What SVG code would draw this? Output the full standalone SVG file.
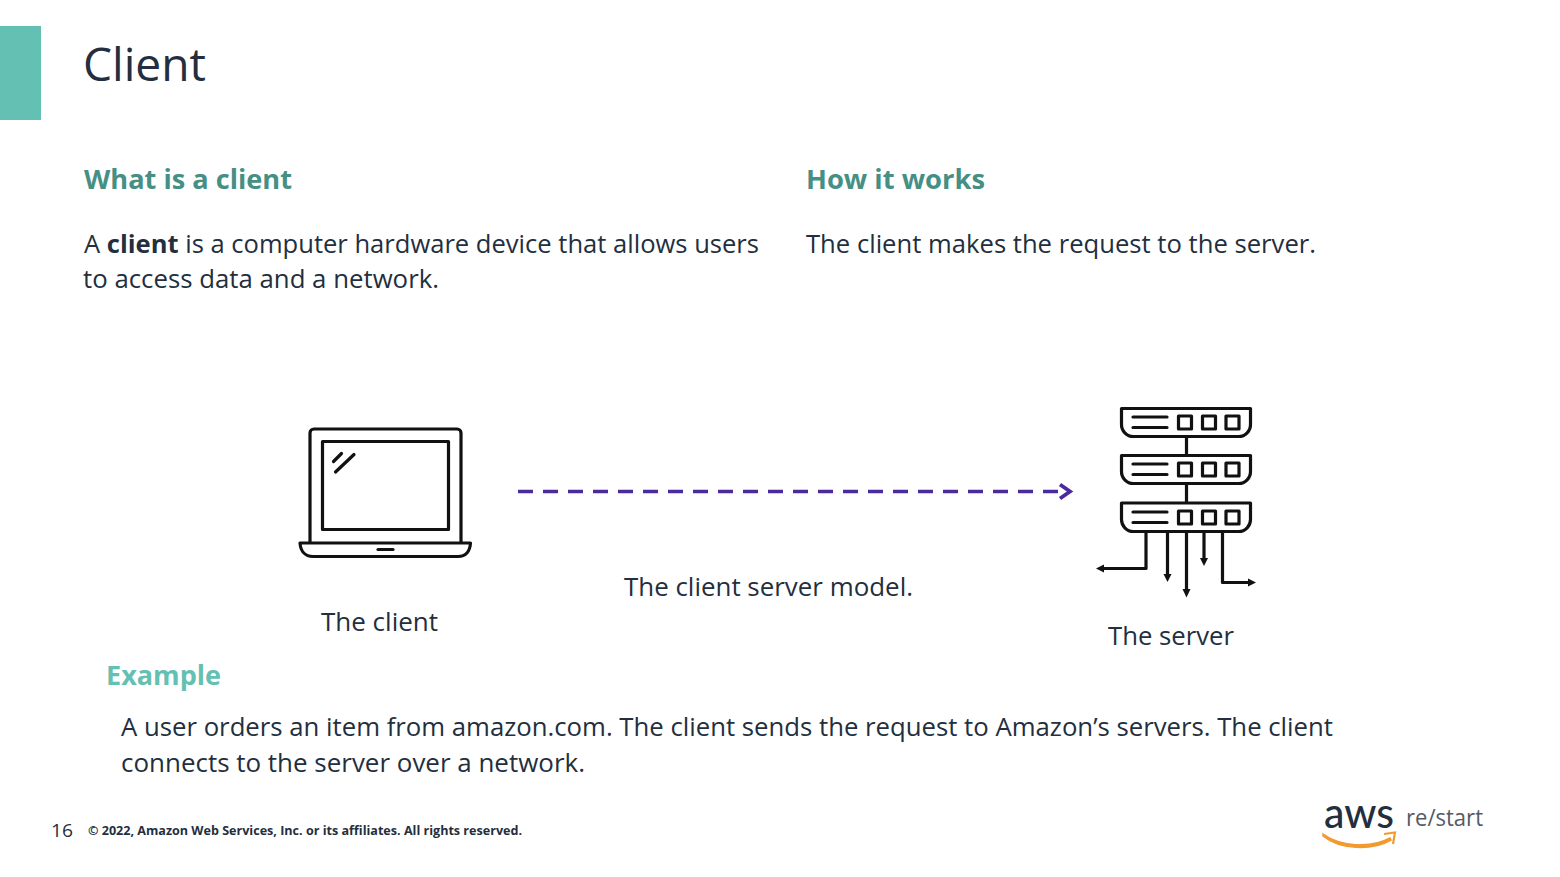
<svg xmlns="http://www.w3.org/2000/svg" width="1560" height="877" viewBox="0 0 1560 877">
<style>
text{font-family:"Open Sans","Noto Sans","Liberation Sans",sans-serif;fill:#232f3e}
.body{font-size:25px}
.head{font-size:26.500px;font-weight:700;fill:#458f85}
.ic{fill:none;stroke:#111;stroke-width:3.200;stroke-linejoin:round;stroke-linecap:round}
.ah{fill:#111;stroke:none}
</style>
<rect width="1560" height="877" fill="#fff"/>
<rect id="accent" x="0" y="26" width="41" height="94" fill="#63c0b2"/>
<text id="title" x="83" y="81" font-size="45" textLength="123" lengthAdjust="spacingAndGlyphs">Client</text>
<text x="84" y="189" class="head" textLength="208" lengthAdjust="spacingAndGlyphs">What is a client</text>
<text x="806" y="189" class="head" textLength="179" lengthAdjust="spacingAndGlyphs">How it works</text>
<text x="84" y="253" class="body" textLength="675" lengthAdjust="spacingAndGlyphs">A <tspan font-weight="700">client</tspan> is a computer hardware device that allows users</text>
<text x="83" y="288" class="body" textLength="356" lengthAdjust="spacingAndGlyphs">to access data and a network.</text>
<text x="806" y="253" class="body" textLength="510" lengthAdjust="spacingAndGlyphs">The client makes the request to the server.</text>
<g id="client">
<path class="ic" d="M310 542V433a4 4 0 0 1 4-4H457a4 4 0 0 1 4 4V542"/>
<rect class="ic" x="322.500" y="441.500" width="126" height="88"/>
<path class="ic" d="M333.500 461.500L341.500 453.500M335.500 472L354 454.500"/>
<path class="ic" d="M300 543H470.500C470 551 466 556.500 458 556.500H313C305 556.500 300.500 551 300 543Z"/>
<path class="ic" d="M378 549.500H393"/>
<text x="321" y="631" class="body" textLength="117" lengthAdjust="spacingAndGlyphs">The client</text>
</g>
<g id="connectors">
<path d="M518 491.500H1066" fill="none" stroke="#4b2a9e" stroke-width="3.600" stroke-dasharray="15 10"/>
<path d="M1060 484.500L1070 491.500L1060 498.500" fill="none" stroke="#4b2a9e" stroke-width="3.800"/>
</g>
<text id="model-label" x="624" y="596" class="body" textLength="289" lengthAdjust="spacingAndGlyphs">The client server model.</text>
<g id="server">
<path class="ic" d="M1121.500 408.500H1250.500V424a12 12 0 0 1-12 12.500H1133.500a12 12 0 0 1-12-12.500Z"/>
<path class="ic" d="M1121.500 455.500H1250.500V471a12 12 0 0 1-12 12.500H1133.500a12 12 0 0 1-12-12.500Z"/>
<path class="ic" d="M1121.500 503H1250.500V519a12 12 0 0 1-12 12.500H1133.500a12 12 0 0 1-12-12.500Z"/>
<path class="ic" d="M1133 417H1167M1133 427.500H1167M1133 464H1167M1133 474.500H1167M1133 512H1167M1133 522.500H1167"/>
<rect class="ic" x="1178.500" y="416" width="13" height="13"/><rect class="ic" x="1202.500" y="416" width="13" height="13"/><rect class="ic" x="1226" y="416" width="13" height="13"/>
<rect class="ic" x="1178.500" y="463" width="13" height="13"/><rect class="ic" x="1202.500" y="463" width="13" height="13"/><rect class="ic" x="1226" y="463" width="13" height="13"/>
<rect class="ic" x="1178.500" y="511" width="13" height="13"/><rect class="ic" x="1202.500" y="511" width="13" height="13"/><rect class="ic" x="1226" y="511" width="13" height="13"/>
<path class="ic" d="M1186.500 437V455M1186.500 484V502M1186.500 532V590M1146 532V568.500H1102M1167.500 532V576M1204 532V561M1222.500 532V582.500H1250"/>
<path class="ah" d="M1096 568.500L1104 564.500V572.500ZM1167.500 582L1163.500 574H1171.500ZM1186.500 597.500L1182.500 589H1190.500ZM1204 566L1200 558H1208ZM1256 582.500L1248 578.500V586.500Z"/>
<text x="1108" y="645" class="body" textLength="126" lengthAdjust="spacingAndGlyphs">The server</text>
</g>
<text x="106" y="685" font-size="26.500" font-weight="700" style="fill:#63c0b2" textLength="115" lengthAdjust="spacingAndGlyphs">Example</text>
<text x="121" y="736" class="body" textLength="1212" lengthAdjust="spacingAndGlyphs">A user orders an item from amazon.com. The client sends the request to Amazon’s servers. The client</text>
<text x="121" y="772" class="body" textLength="464" lengthAdjust="spacingAndGlyphs">connects to the server over a network.</text>
<text x="51" y="837" font-size="19" textLength="22" lengthAdjust="spacingAndGlyphs">16</text>
<text x="88" y="835" font-size="12.500" font-weight="700" textLength="434" lengthAdjust="spacingAndGlyphs">© 2022, Amazon Web Services, Inc. or its affiliates. All rights reserved.</text>
<g id="logo">
<text x="1324" y="828" font-size="42" font-weight="500" textLength="70" lengthAdjust="spacingAndGlyphs" style="font-family:Lato,'Open Sans',sans-serif">aws</text>
<text x="1406" y="826" font-size="24" textLength="77" lengthAdjust="spacingAndGlyphs" style="fill:#545b64">re/start</text>
<path d="M1323 834C1340 846 1370 849 1390 838L1391 840C1372 851 1340 850 1323 836Z" fill="#f29a2e" stroke="#f29a2e" stroke-width="1.500"/>
<path d="M1384 834L1395 832.500L1393 844" fill="none" stroke="#f29a2e" stroke-width="2.200"/>
</g>
</svg>
